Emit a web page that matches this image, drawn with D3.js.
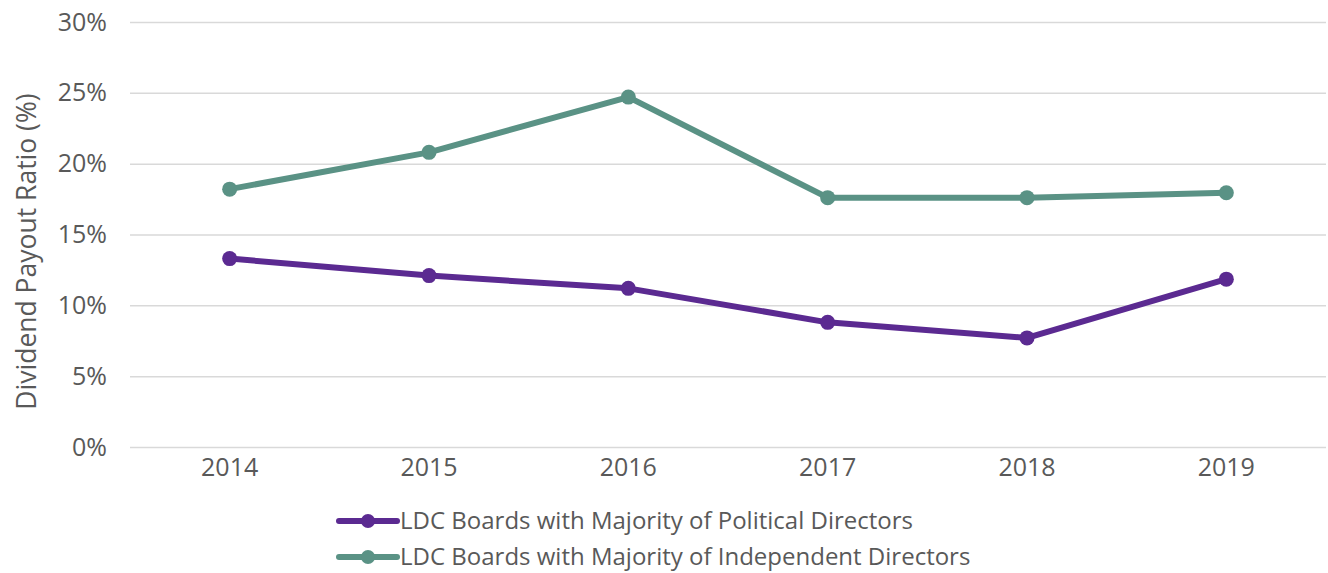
<!DOCTYPE html>
<html>
<head>
<meta charset="utf-8">
<script src="https://cdn.jsdelivr.net/npm/d3@7"></script>
<style>
  html, body { margin: 0; padding: 0; background: #fff; }
  text { font-family: "Open Sans", sans-serif; fill: #595959; }
</style>
</head>
<body>
<div id="app"></div>
<script>
const width = 1328
const height = 573
const margin = { top: 22, right: 2, bottom: 126, left: 130 }

const years = ["2014", "2015", "2016", "2017", "2018", "2019"]
const political = [13.3, 12.1, 11.2, 8.8, 7.7, 11.85]
const independent = [18.2, 20.8, 24.7, 17.6, 17.6, 17.95]
const yTicks = [0, 5, 10, 15, 20, 25, 30]
const seriesNames = [
    "LDC Boards with Majority of Political Directors",
    "LDC Boards with Majority of Independent Directors"
]
const colors = ["#5b2a91", "#5a9285"]

const series = [political, independent]

const x = d3.scaleBand()
    .domain(years)
    .range([margin.left, width - margin.right])

const y = d3.scaleLinear()
    .domain([0, 30])
    .range([height - margin.bottom, margin.top])

const svg = d3.select("#app").append("svg")
    .attr("width", width)
    .attr("height", height)

// gridlines + y labels
const yAxis = g => g
    .attr("transform", `translate(${margin.left}, 0)`)
    .call(d3.axisLeft(y).tickValues(yTicks).tickFormat(d => d + "%")
        .tickSize(-(width - margin.left - margin.right)).tickPadding(23))
    .call(g => g.select(".domain").remove())
    .call(g => g.selectAll(".tick line").attr("stroke", "#d9d9d9").attr("stroke-width", 1.5))
    .call(g => g.selectAll(".tick text").attr("font-size", 25).attr("fill", "#595959")
        .attr("font-family", '"Open Sans", sans-serif'))

const xAxis = g => g
    .attr("transform", `translate(0, ${height - margin.bottom})`)
    .call(d3.axisBottom(x).tickSize(0).tickPadding(11))
    .call(g => g.select(".domain").remove())
    .call(g => g.selectAll(".tick text").attr("font-size", 25).attr("fill", "#595959")
        .attr("font-family", '"Open Sans", sans-serif'))

svg.append("g").call(yAxis)
svg.append("g").call(xAxis)

svg.append("text")
    .attr("transform", `translate(36, ${(margin.top + height - margin.bottom) / 2 + 17}) rotate(-90)`)
    .attr("text-anchor", "middle")
    .attr("font-size", 26.5)
    .text("Dividend Payout Ratio (%)")

const line = d3.line()
    .x((d, i) => x(years[i]) + x.bandwidth() / 2)
    .y(d => y(d))

series.forEach((vals, k) => {
    svg.append("path")
        .attr("d", line(vals))
        .attr("fill", "none")
        .attr("stroke", colors[k])
        .attr("stroke-width", 6)
        .attr("stroke-linejoin", "round")
    svg.append("g").selectAll("circle")
        .data(vals)
        .join("circle")
        .attr("cx", (d, i) => x(years[i]) + x.bandwidth() / 2)
        .attr("cy", d => y(d))
        .attr("r", 7.5)
        .attr("fill", colors[k])
})

// legend
const legend = svg.append("g")
seriesNames.forEach((name, k) => {
    const ly = 521 + k * 36
    legend.append("line")
        .attr("x1", 339).attr("x2", 397)
        .attr("y1", ly).attr("y2", ly)
        .attr("stroke", colors[k])
        .attr("stroke-width", 6)
        .attr("stroke-linecap", "round")
    legend.append("circle")
        .attr("cx", 368).attr("cy", ly).attr("r", 7)
        .attr("fill", colors[k])
    legend.append("text")
        .attr("x", 400).attr("y", ly)
        .attr("dy", "0.35em")
        .attr("font-size", 24)
        .text(name)
})
</script>
</body>
</html>
